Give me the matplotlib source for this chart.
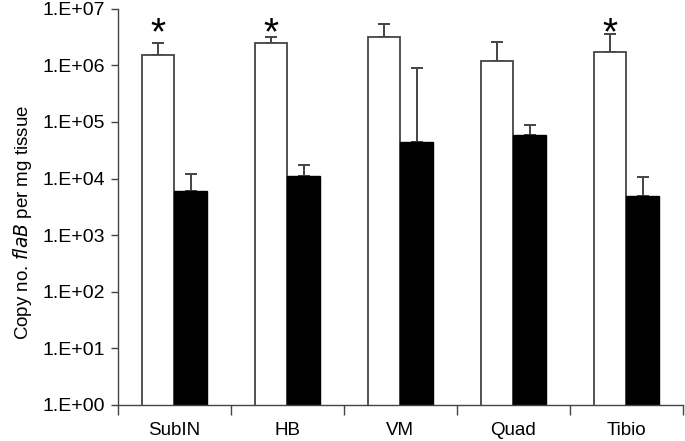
import matplotlib
matplotlib.use('Agg')
import matplotlib.pyplot as plt
import numpy as np

plt.rcParams['font.family'] = ['Liberation Sans', 'DejaVu Sans']

# 数据
categories = ['SubIN', 'HB', 'VM', 'Quad', 'Tibio']
white_vals = [1.5e6, 2.5e6, 3.2e6, 1.18e6, 1.7e6]
white_err_top = [2.45e6, 3.2e6, 5.4e6, 2.6e6, 3.6e6]
black_vals = [6.1e3, 1.1e4, 4.5e4, 5.9e4, 4.9e3]
black_err_top = [1.2e4, 1.75e4, 9.0e5, 8.9e4, 1.08e4]
star_flags = [True, True, False, False, True]
ytick_vals = [1e0, 1e1, 1e2, 1e3, 1e4, 1e5, 1e6, 1e7]
ytick_labels = ['1.E+00', '1.E+01', '1.E+02', '1.E+03', '1.E+04', '1.E+05', '1.E+06', '1.E+07']

fig = plt.figure(figsize=(6.85, 4.41), dpi=100)
ax = fig.add_axes([0.172, 0.082, 0.825, 0.898])

x = np.arange(len(categories))
w = 0.29
edge = '#444444'

white_up = np.array(white_err_top) - np.array(white_vals)
black_up = np.array(black_err_top) - np.array(black_vals)

ax.bar(x - w / 2, white_vals, w, color='white', edgecolor=edge, linewidth=1.3, zorder=2)
ax.bar(x + w / 2, black_vals, w, color='black', edgecolor='black', linewidth=1.0, zorder=2)
ax.errorbar(x - w / 2, white_vals, yerr=[np.zeros(5), white_up], fmt='none',
            ecolor=edge, elinewidth=1.4, capsize=4, capthick=1.4, zorder=1)
ax.errorbar(x + w / 2, black_vals, yerr=[np.zeros(5), black_up], fmt='none',
            ecolor=edge, elinewidth=1.4, capsize=4, capthick=1.4, zorder=1)

# 显著性星号
for i, flag in enumerate(star_flags):
    if flag:
        ax.text(x[i] - w / 2, 3.5e6, '*', ha='center', va='center', fontsize=28)

ax.set_yscale('log')
ax.set_ylim(1, 1e7)
ax.set_xlim(-0.5, len(categories) - 0.5)
ax.set_yticks(ytick_vals)
ax.set_yticklabels(ytick_labels)
ax.yaxis.set_minor_locator(matplotlib.ticker.NullLocator())

ax.set_xticks(x)
ax.set_xticklabels(categories)
ax.set_xticks(np.arange(len(categories) + 1) - 0.5, minor=True)
ax.tick_params(axis='x', which='major', length=0, pad=12, labelsize=13.5)
ax.tick_params(axis='x', which='minor', length=7, color=edge, width=1)
ax.tick_params(axis='y', length=5, color=edge, width=1, labelsize=14, pad=4)

for s in ['top', 'right']:
    ax.spines[s].set_visible(False)
for s in ['left', 'bottom']:
    ax.spines[s].set_color(edge)
    ax.spines[s].set_linewidth(1)

ax.set_ylabel('Copy no. $\\it{flaB}$ per mg tissue', fontsize=13.5)
ax.yaxis.set_label_coords(-0.148, 0.46)

fig.savefig('out.png', dpi=100)
